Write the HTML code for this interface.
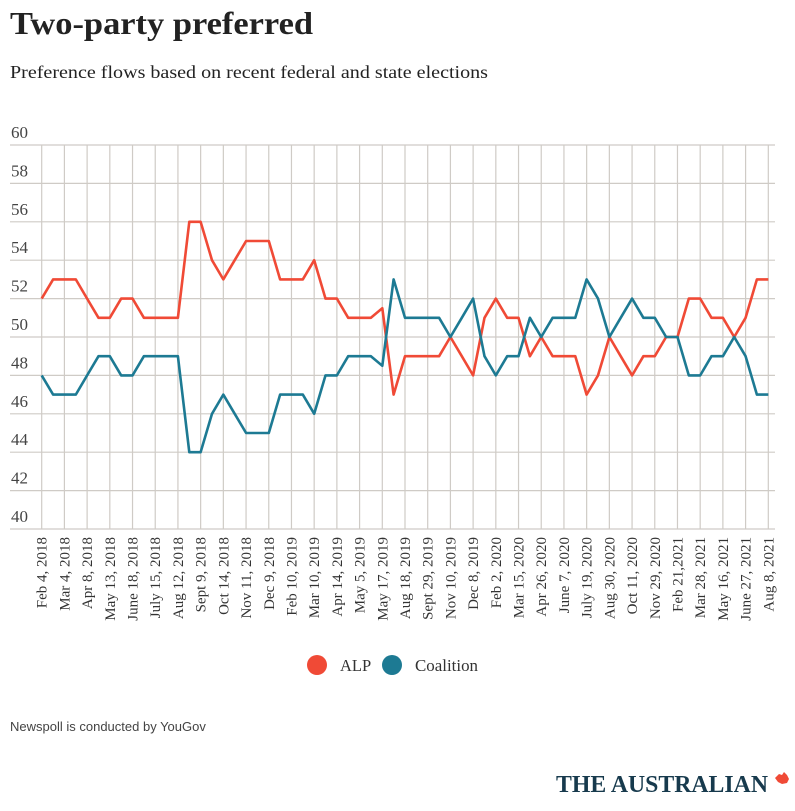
<!DOCTYPE html>
<html><head><meta charset="utf-8"><style>
html,body{margin:0;padding:0;background:#fff;}
body{width:795px;height:806px;position:relative;overflow:hidden;font-family:"Liberation Serif",serif;}
</style></head><body>
<svg width="795" height="806" xmlns="http://www.w3.org/2000/svg">
<text x="10" y="34" font-family="Liberation Serif, serif" font-weight="bold" font-size="32" fill="#222" textLength="303" lengthAdjust="spacingAndGlyphs">Two-party preferred</text>
<text x="10" y="78" font-family="Liberation Serif, serif" font-size="18" fill="#222" textLength="478" lengthAdjust="spacingAndGlyphs">Preference flows based on recent federal and state elections</text>
<g id="grid"></g>
<g id="yticks"></g>
<g id="xticks"></g>
<g id="lines"></g>
<g>
<g><circle cx="317" cy="665" r="10" fill="#f04a36"/><text x="340" y="671" font-size="16.5" fill="#333">ALP</text></g>
<g><circle cx="392" cy="665" r="10" fill="#1d7a93"/><text x="415" y="671" font-size="16.5" fill="#333" textLength="63" lengthAdjust="spacingAndGlyphs">Coalition</text></g>
</g>
<text x="10" y="731" font-family="Liberation Sans, sans-serif" font-size="13" fill="#444">Newspoll is conducted by YouGov</text>
<g>
<text x="556" y="792" font-family="Liberation Serif, serif" font-weight="bold" font-size="24" fill="#173a4d" textLength="212" lengthAdjust="spacingAndGlyphs">THE AUSTRALIAN</text>
<path d="M775 778 l4 -4 l3 1 l2 -3 l3 3 l2 4 l-2 4 l-5 1 l-4 -2 z" fill="#f04a36"/>
</g>
</svg>
<script>
const yTicks=[40,42,44,46,48,50,52,54,56,58,60];
const xLabels=["Feb 4, 2018","Mar 4, 2018","Apr 8, 2018","May 13, 2018","June 18, 2018","July 15, 2018","Aug 12, 2018","Sept 9, 2018","Oct 14, 2018","Nov 11, 2018","Dec 9, 2018","Feb 10, 2019","Mar 10, 2019","Apr 14, 2019","May 5, 2019","May 17, 2019","Aug 18, 2019","Sept 29, 2019","Nov 10, 2019","Dec 8, 2019","Feb 2, 2020","Mar 15, 2020","Apr 26, 2020","June 7, 2020","July 19, 2020","Aug 30, 2020","Oct 11, 2020","Nov 29, 2020","Feb 21,2021","Mar 28, 2021","May 16, 2021","June 27, 2021","Aug 8, 2021"];
const alp=[52,53,53,53,52,51,51,52,52,51,51,51,51,56,56,54,53,54,55,55,55,53,53,53,54,52,52,51,51,51,51.5,47,49,49,49,49,50,49,48,51,52,51,51,49,50,49,49,49,47,48,50,49,48,49,49,50,50,52,52,51,51,50,51,53,53];
const coalition=[48,47,47,47,48,49,49,48,48,49,49,49,49,44,44,46,47,46,45,45,45,47,47,47,46,48,48,49,49,49,48.5,53,51,51,51,51,50,51,52,49,48,49,49,51,50,51,51,51,53,52,50,51,52,51,51,50,50,48,48,49,49,50,49,47,47];
const NS="http://www.w3.org/2000/svg";
const X0=41.7,X1=768.3,Y40=529,Y60=145;
const xs=i=>X0+(X1-X0)*i/(alp.length-1);
const xl=i=>X0+(X1-X0)*i/(xLabels.length-1);
const ys=v=>Y40-(v-40)*(Y40-Y60)/20;
function mk(t,a,p){const e=document.createElementNS(NS,t);for(const k in a)e.setAttribute(k,a[k]);p.appendChild(e);return e;}
const grid=document.getElementById('grid'),yt=document.getElementById('yticks'),xt=document.getElementById('xticks'),ln=document.getElementById('lines');
yTicks.forEach(v=>{
 const l=mk('line',{x1:10,x2:775,y1:ys(v),y2:ys(v),stroke:'#cfcbc6','stroke-width':1.2},grid);
 
 
 const t=mk('text',{x:11,y:ys(v)-7,'font-size':17,fill:'#444','font-family':'Liberation Serif, serif'},yt);
 t.textContent=v;
 
 
});
xLabels.forEach((s,i)=>{
 const x=xl(i);
 const l=mk('line',{x1:x,x2:x,y1:ys(60),y2:ys(40),stroke:'#cfcbc6','stroke-width':1.2},grid);
 
 
 const t=mk('text',{x:0,y:0,'font-size':15,fill:'#333','text-anchor':'end','font-family':'Liberation Serif, serif',transform:`translate(${x+5},537) rotate(-90)`},xt);
 t.textContent=s;
 
 
});
function line(arr,col,name){
 const d=arr.map((v,i)=>(i?'L':'M')+xs(i).toFixed(1)+' '+ys(v).toFixed(1)).join(' ');
 const p=mk('path',{d:d,fill:'none',stroke:col,'stroke-width':2.6,'stroke-linejoin':'round'},ln);
 
 
}
line(alp,'#f04a36','alp-line');
line(coalition,'#1d7a93','coalition-line');
</script>
</body></html>
